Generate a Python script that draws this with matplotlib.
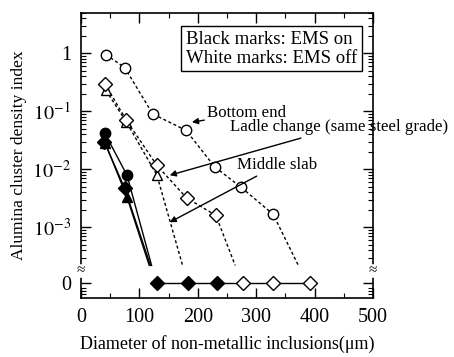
import numpy as np
import matplotlib.pyplot as plt
from matplotlib.ticker import FixedLocator, NullFormatter

plt.rcParams['font.family'] = ['Liberation Serif', 'DejaVu Serif']
plt.rcParams['mathtext.fontset'] = 'stix'

# zero values sit on their own row below the log decades
ZERO = 1.1e-4
CUT = 2.2e-4   # curves that fall to zero are cut off here

# white marks: EMS off
circ_off_x = [43, 75, 123, 180, 229, 274, 329]
circ_off_y = [0.95, 0.57, 0.09, 0.047, 0.011, 0.0049, 0.00167]
circ_off_end = 372
diam_off_x = [41, 78, 130, 181, 231]
diam_off_y = [0.30, 0.07, 0.0117, 0.0032, 0.0016]
diam_off_end = 264
tri_off_x = [43, 78, 130]
tri_off_y = [0.23, 0.065, 0.008]
tri_off_end = 174

# black marks: EMS on
circ_on_x = [41, 79]
circ_on_y = [0.042, 0.0079]
diam_on_x = [40, 75]
diam_on_y = [0.030, 0.0047]
tri_on_x = [42, 79]
tri_on_y = [0.028, 0.0033]
on_ends = [121, 119, 117]

# sizes where no inclusion was found (density = 0)
zero_on_x = [130, 183, 233]
zero_off_x = [277, 329, 392]

fig = plt.figure(figsize=(4.54, 3.57), dpi=100)
ax = fig.add_axes([0.178, 0.165, 0.644, 0.799])
ax.set_yscale('log')

dash = (0, (2.2, 1.8))

# EMS off, dashed lines with open marks
for xs, ys, end in [(circ_off_x, circ_off_y, circ_off_end),
                    (diam_off_x, diam_off_y, diam_off_end),
                    (tri_off_x, tri_off_y, tri_off_end)]:
    ax.plot(xs + [end], ys + [CUT], color='black', lw=1, ls=dash, zorder=2)
for xs, ys, m, ms in [(tri_off_x, tri_off_y, '^', 7),
                      (diam_off_x, diam_off_y, 'D', 7),
                      (circ_off_x, circ_off_y, 'o', 7.5)]:
    ax.plot(xs, ys, ls='none', marker=m, ms=ms, mfc='white', mec='black',
            mew=1, zorder=3)

# EMS on, solid lines with filled marks
for xs, ys, end in [(circ_on_x, circ_on_y, on_ends[0]),
                    (diam_on_x, diam_on_y, on_ends[1]),
                    (tri_on_x, tri_on_y, on_ends[2])]:
    ax.plot(xs + [end], ys + [CUT], color='black', lw=1, zorder=2)
for xs, ys, m, ms in [(tri_on_x, tri_on_y, '^', 7),
                      (diam_on_x, diam_on_y, 'D', 7),
                      (circ_on_x, circ_on_y, 'o', 7.5)]:
    ax.plot(xs, ys, ls='none', marker=m, ms=ms, color='black', zorder=3)

# zero row
zx = zero_on_x + zero_off_x
ax.plot(zx, [ZERO] * len(zx), color='black', lw=1, zorder=2)
ax.plot(zero_on_x, [ZERO] * len(zero_on_x), ls='none', marker='D', ms=7,
        color='black', zorder=3)
ax.plot(zero_off_x, [ZERO] * len(zero_off_x), ls='none', marker='D', ms=7,
        mfc='white', mec='black', mew=1, zorder=3)

ax.set_xlim(0, 500)
ax.set_ylim(6e-5, 5)
ax.set_xticks(np.arange(0, 501, 100))
ax.xaxis.set_minor_locator(FixedLocator(np.arange(50, 500, 100)))
ax.set_yticks([ZERO, 1e-3, 1e-2, 1e-1, 1])
ax.set_yticklabels(['0', '$10^{-3}$', '$10^{-2}$', '$10^{-1}$', '1'])
minors = [k * 10.0 ** d for d in range(-3, 1) for k in range(2, 10)]
minors += [k * 1e-4 for k in range(3, 10)] + [9e-5, 8e-5, 7e-5]
ax.yaxis.set_minor_locator(FixedLocator(minors))
ax.yaxis.set_minor_formatter(NullFormatter())
ax.tick_params(which='both', direction='in', top=True, right=True,
               labelsize=14.5)
ax.tick_params(which='major', length=7, width=1)
ax.tick_params(which='minor', length=3.5, width=0.8)
ax.tick_params(axis='x', pad=7)
ax.tick_params(axis='y', pad=7)
for s in ax.spines.values():
    s.set_linewidth(1.2)

ax.set_xlabel('Diameter of non-metallic inclusions(\u03bcm)', fontsize=13,
              labelpad=6)
ax.set_ylabel('Alumina cluster density index', fontsize=12.5, labelpad=4)

# axis break marks on both spines
tr = ax.get_yaxis_transform()
for xa in (0, 1):
    ax.plot([xa, xa], [1.5e-4, 2.1e-4], color='white', lw=4, transform=tr,
            clip_on=False, zorder=5)
    ax.text(xa, 1.75e-4, '\u2248', transform=tr, ha='center', va='center',
            fontsize=11, clip_on=False, zorder=6)

ax.text(0.36, 0.937, 'Black marks: EMS on\nWhite marks: EMS off',
        transform=ax.transAxes, ha='left', va='top', fontsize=13.5,
        linespacing=1.15,
        bbox=dict(boxstyle='square,pad=0.25', fc='white', ec='black', lw=1))

arrow = dict(arrowstyle='-|>', color='black', lw=1, mutation_scale=9,
             shrinkA=0, shrinkB=0)
ax.annotate('Bottom end', xy=(190, 0.065), xytext=(216, 0.093),
            ha='left', va='center', fontsize=12.2, arrowprops=arrow,
            annotation_clip=False)
ax.annotate('Ladle change (same steel grade)', xy=(152, 0.0079),
            xytext=(255, 0.053), ha='left', va='center', fontsize=12.2,
            arrowprops=arrow, annotation_clip=False)
ax.annotate('Middle slab', xy=(152, 0.00122), xytext=(267, 0.0117),
            ha='left', va='center', fontsize=12.2, arrowprops=arrow,
            annotation_clip=False)

fig.savefig('out.png', dpi=100)
